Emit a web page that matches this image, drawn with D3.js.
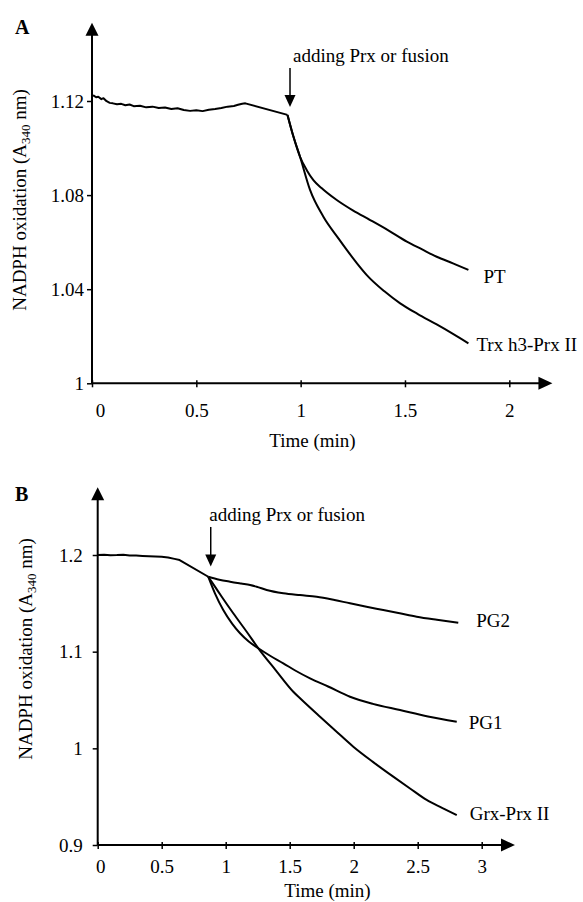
<!DOCTYPE html>
<html>
<head>
<meta charset="utf-8">
<script src="https://cdn.jsdelivr.net/npm/d3@7"></script>
<style>
  body { margin: 0; background: #fff; }
  svg text { font-family: "Liberation Serif", "Times New Roman", serif; fill: #000; }
</style>
</head>
<body>
<div class="chart"></div>
<script>
// NADPH oxidation traces, two panels (A: Trx fusion, B: Grx fusion)

// ---- data: [time (min), A340] ----
var baselineA = [[0,1.1224],[0.01,1.1222],[0.02,1.1216],[0.03,1.1218],[0.045,1.1208],[0.055,1.1212],
    [0.07,1.1199],[0.085,1.1192],[0.1,1.1190],[0.12,1.1186],[0.14,1.1188],[0.16,1.1182],[0.18,1.1185],
    [0.2,1.1178],[0.23,1.1180],[0.26,1.1173],[0.29,1.1176],[0.32,1.1170],[0.35,1.1172],[0.38,1.1166],
    [0.41,1.1169],[0.44,1.1162],[0.47,1.1158],[0.5,1.1161],[0.53,1.1157],[0.56,1.1163],[0.59,1.1166],
    [0.62,1.1170],[0.65,1.1176],[0.68,1.1179],[0.7,1.1184],[0.72,1.1188],[0.735,1.1190],[0.937,1.1141]];
var ptA = [[0.937,1.1141],[0.965,1.1050],[0.997,1.0963],[1.03,1.0905],[1.061,1.0864],[1.1,1.0830],
    [1.173,1.0779],[1.25,1.0735],[1.333,1.0694],[1.42,1.0650],[1.509,1.0602],[1.58,1.0570],
    [1.652,1.0538],[1.73,1.0510],[1.804,1.0482]];
var trxA = [[0.937,1.1141],[0.965,1.1050],[0.997,1.0963],[1.045,1.0822],[1.109,1.0708],[1.181,1.0616],
    [1.221,1.0567],[1.27,1.0510],[1.317,1.0460],[1.4,1.0392],[1.477,1.0340],[1.56,1.0295],
    [1.652,1.0250],[1.73,1.0210],[1.804,1.0170]];

var baselineB = [[0,1.2],[0.05,1.2003],[0.1,1.1998],[0.15,1.1999],[0.2,1.2003],[0.25,1.1996],
    [0.3,1.1994],[0.35,1.1990],[0.4,1.1987],[0.45,1.1985],[0.5,1.1981],[0.55,1.1974],[0.6,1.1960],
    [0.64,1.1948],[0.864,1.1775]];
var pg2B = [[0.864,1.1775],[0.95,1.1745],[1.034,1.1724],[1.12,1.1705],[1.191,1.1690],[1.242,1.1672],
    [1.32,1.1638],[1.45,1.1604],[1.58,1.1585],[1.711,1.1569],[1.85,1.1535],[1.971,1.1500],[2.1,1.1465],
    [2.231,1.1431],[2.36,1.1397],[2.492,1.1362],[2.65,1.1330],[2.817,1.1300]];
var pg1B = [[0.864,1.1775],[0.916,1.1604],[0.981,1.1431],[1.05,1.1290],[1.112,1.1190],[1.18,1.1105],
    [1.255,1.1035],[1.35,1.0955],[1.45,1.0880],[1.55,1.0800],[1.659,1.0724],[1.8,1.0640],[1.971,1.0534],
    [2.15,1.0460],[2.362,1.0396],[2.58,1.0330],[2.805,1.0275]];
var grxB = [[0.864,1.1775],[0.92,1.1665],[0.969,1.1568],[1.059,1.1397],[1.164,1.1206],[1.255,1.1035],
    [1.39,1.0810],[1.528,1.0586],[1.581,1.0518],[1.737,1.0327],[1.86,1.0180],[1.997,1.0017],[2.15,0.9860],
    [2.309,0.9707],[2.44,0.9585],[2.57,0.9466],[2.69,0.9385],[2.805,0.9310]];

var xTicksA = [0, 0.5, 1, 1.5, 2];
var yTicksA = [1, 1.04, 1.08, 1.12];
var xTicksB = [0, 0.5, 1, 1.5, 2, 2.5, 3];
var yTicksB = [0.9, 1, 1.1, 1.2];

var seriesNamesA = ["PT", "Trx h3-Prx II"];
var seriesNamesB = ["PG2", "PG1", "Grx-Prx II"];
var annotationText = "adding Prx or fusion";

// ---- layout ----
var W = 583, H = 902;
var FONT = 19;

var svg = d3.select(".chart").append("svg")
    .attr("width", W)
    .attr("height", H);

function arrowHead(g, x, y, dir, len, half) {
    // filled triangle pointing in dir ("up","right","down"), tip at x,y
    var pts;
    if (dir == "up") pts = [[x, y], [x - half, y + len], [x + half, y + len]];
    else if (dir == "right") pts = [[x, y], [x - len, y - half], [x - len, y + half]];
    else pts = [[x, y], [x - half, y - len], [x + half, y - len]];
    g.append("path").attr("d", "M" + pts.join("L") + "Z").attr("fill", "#000");
}

function fmt(d) { return String(+d.toFixed(2)); }

function drawPanel(p) {
    var g = svg.append("g");
    var x = d3.scaleLinear().domain(p.xDomain).range(p.xRange);
    var y = d3.scaleLinear().domain(p.yDomain).range(p.yRange);
    // baseline keeps its straight gap segment, the decays are smooth
    var rawLine = d3.line().x(function(d){ return x(d[0]); }).y(function(d){ return y(d[1]); });
    var smoothLine = d3.line().curve(d3.curveMonotoneX)
        .x(function(d){ return x(d[0]); }).y(function(d){ return y(d[1]); });

    // y axis
    var yAx = g.append("g")
        .attr("transform", "translate(" + x(0) + ",0)")
        .call(d3.axisLeft(y).tickValues(p.yTicks).tickSize(5).tickPadding(p.yPad).tickFormat(fmt));
    yAx.select(".domain").remove();
    yAx.selectAll("line").attr("stroke-width", 1.5);
    yAx.selectAll("text").attr("font-size", FONT).attr("font-family", null);

    // x axis, ticks cross the line
    var xAx = g.append("g")
        .attr("transform", "translate(0," + y(p.yDomain[0]) + ")")
        .call(d3.axisBottom(x).tickValues(p.xTicks).tickSize(4).tickPadding(p.xPad).tickFormat(fmt));
    xAx.select(".domain").remove();
    xAx.selectAll("line").attr("y1", -3).attr("stroke-width", 1.5);
    xAx.selectAll("text").attr("font-size", FONT).attr("font-family", null)
        .attr("dx", function(d){ return d == 0 ? p.zeroDx : 0; });

    // axis lines with arrow heads
    g.append("line")
        .attr("x1", x(0)).attr("x2", x(0))
        .attr("y1", y(p.yDomain[0])).attr("y2", y(p.yTop) + 10)
        .attr("stroke", "#000").attr("stroke-width", 2);
    arrowHead(g, x(0), y(p.yTop), "up", 13, 6.5);
    g.append("line")
        .attr("x1", x(0)).attr("x2", x(p.xEnd) - 10)
        .attr("y1", y(p.yDomain[0])).attr("y2", y(p.yDomain[0]))
        .attr("stroke", "#000").attr("stroke-width", 2);
    arrowHead(g, x(p.xEnd), y(p.yDomain[0]), "right", 14, 6.5);

    // traces
    g.selectAll(".trace")
        .data(p.series)
      .enter().append("path")
        .attr("class", "trace")
        .attr("d", function(d){ return d.name ? smoothLine(d.values) : rawLine(d.values); })
        .attr("fill", "none")
        .attr("stroke", "#000")
        .attr("stroke-width", 2)
        .attr("stroke-linejoin", "round");

    // series labels at the end of each trace
    g.selectAll(".lbl")
        .data(p.series.filter(function(d){ return d.name; }))
      .enter().append("text")
        .attr("class", "lbl")
        .attr("x", function(d){ var e = d.values[d.values.length - 1]; return x(e[0]) + d.dx; })
        .attr("y", function(d){ var e = d.values[d.values.length - 1]; return y(e[1]) + d.dy; })
        .attr("font-size", FONT)
        .text(function(d){ return d.name; });

    // "adding Prx or fusion" arrow
    g.append("line")
        .attr("x1", x(p.addT)).attr("x2", x(p.addT))
        .attr("y1", y(p.addFrom)).attr("y2", y(p.addTo) - 10)
        .attr("stroke", "#000").attr("stroke-width", 1.5);
    arrowHead(g, x(p.addT), y(p.addTo), "down", 12, 5.5);
    g.append("text")
        .attr("x", x(p.addT) + p.addTextDx)
        .attr("y", y(p.addFrom) - 6)
        .attr("font-size", FONT)
        .text(annotationText);

    // axis titles
    g.append("text")
        .attr("x", p.xTitle[0]).attr("y", p.xTitle[1])
        .attr("text-anchor", "middle")
        .attr("font-size", FONT)
        .text("Time (min)");

    var yt = g.append("text")
        .attr("transform", "translate(" + p.yTitle[0] + "," + p.yTitle[1] + ") rotate(-90)")
        .attr("text-anchor", "middle")
        .attr("font-size", FONT);
    yt.append("tspan").text("NADPH oxidation (A");
    yt.append("tspan").attr("font-size", 13).attr("dy", 4).text("340");
    yt.append("tspan").attr("dy", -4).text(" nm)");

    // panel letter
    g.append("text")
        .attr("x", p.letterPos[0]).attr("y", p.letterPos[1])
        .attr("font-size", 20).attr("font-weight", "bold")
        .text(p.letter);
}

drawPanel({
    letter: "A", letterPos: [15, 34],
    xDomain: [0, 2], xRange: [92, 509.3],
    yDomain: [1, 1.12], yRange: [383.3, 101],
    yTop: 1.1533, xEnd: 2.2066,
    xTicks: xTicksA, yTicks: yTicksA, yPad: 3, xPad: 16, zeroDx: 8,
    series: [
        { values: baselineA },
        { values: ptA, name: seriesNamesA[0], dx: 15, dy: 13 },
        { values: trxA, name: seriesNamesA[1], dx: 8, dy: 8 }
    ],
    addT: 0.949, addFrom: 1.134, addTo: 1.1175, addTextDx: 3,
    xTitle: [312.5, 446.5], yTitle: [26, 200]
});

drawPanel({
    letter: "B", letterPos: [15, 501],
    xDomain: [0, 3], xRange: [97.7, 481.7],
    yDomain: [0.9, 1.2], yRange: [845, 555],
    yTop: 1.27, xEnd: 3.26,
    xTicks: xTicksB, yTicks: yTicksB, yPad: 10, xPad: 11, zeroDx: 2.5,
    series: [
        { values: baselineB },
        { values: pg2B, name: seriesNamesB[0], dx: 18, dy: 4 },
        { values: pg1B, name: seriesNamesB[1], dx: 12, dy: 7 },
        { values: grxB, name: seriesNamesB[2], dx: 13, dy: 5 }
    ],
    addT: 0.883, addFrom: 1.229, addTo: 1.188, addTextDx: -1.5,
    xTitle: [327.5, 897], yTitle: [32, 649]
});
</script>
</body>
</html>
